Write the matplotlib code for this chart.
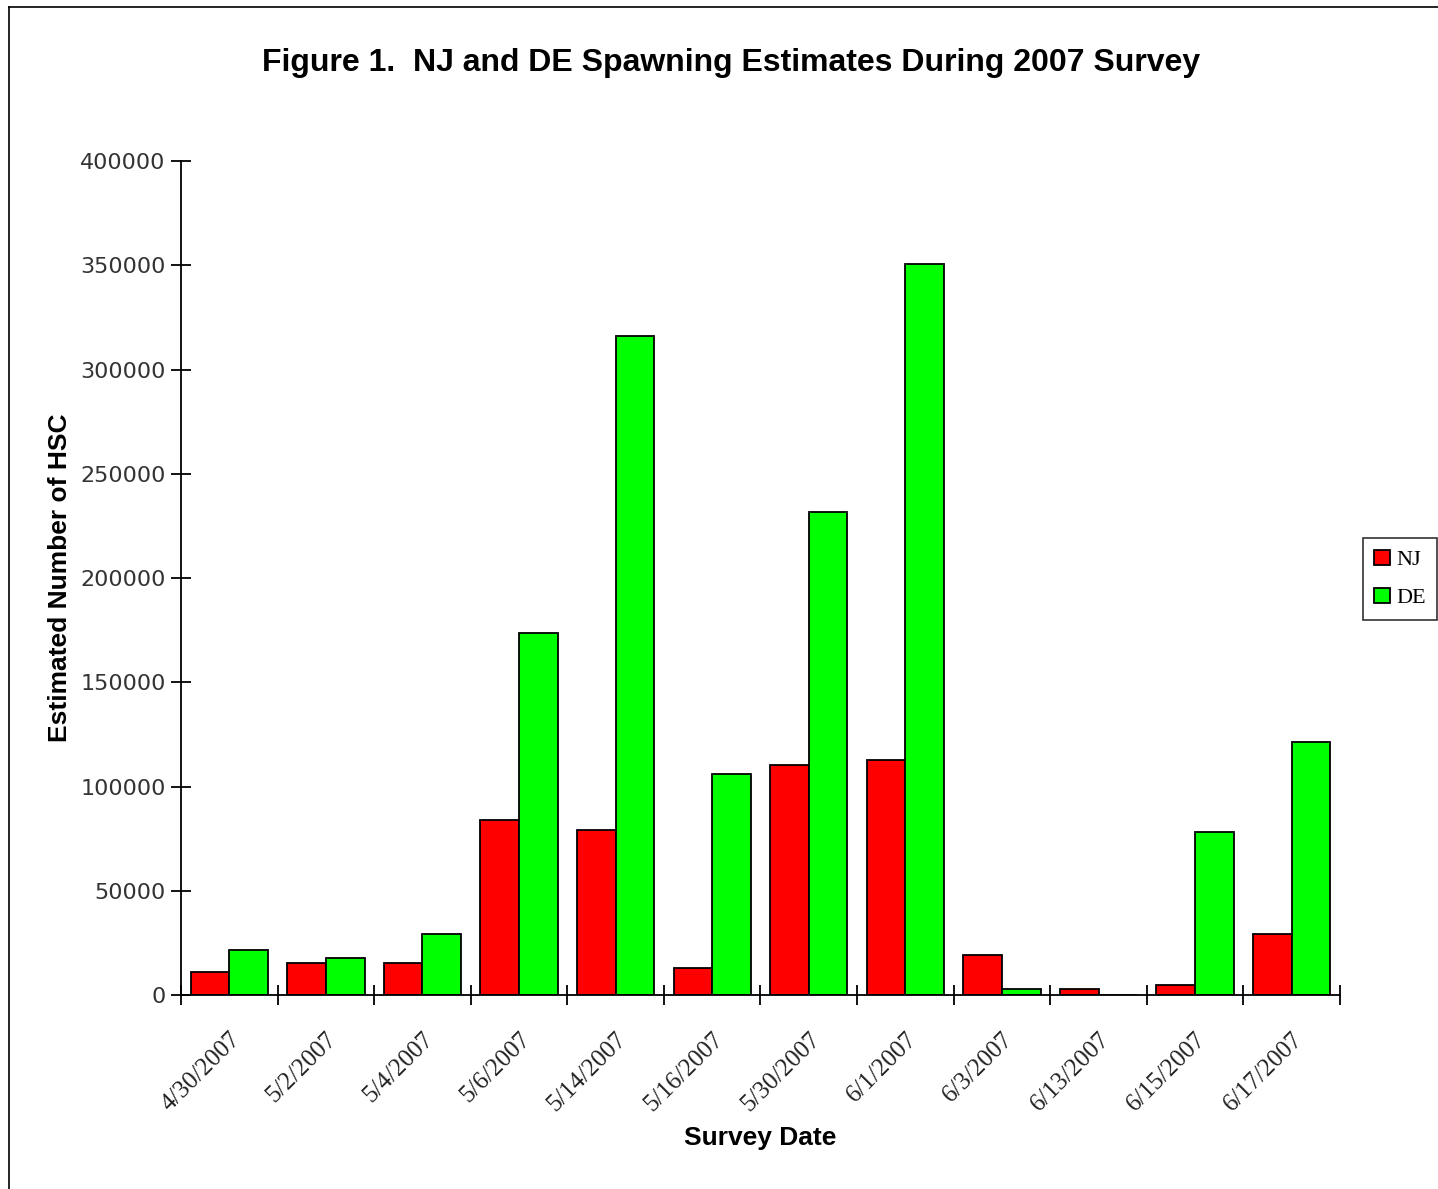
import matplotlib
matplotlib.use("Agg")
import matplotlib.pyplot as plt
import numpy as np
from matplotlib.lines import Line2D

dates = ["4/30/2007", "5/2/2007", "5/4/2007", "5/6/2007", "5/14/2007", "5/16/2007",
         "5/30/2007", "6/1/2007", "6/3/2007", "6/13/2007", "6/15/2007", "6/17/2007"]
nj = [11000, 15300, 15300, 83900, 79100, 13000, 110300, 112700, 19200, 2900, 4800, 29300]
de = [21600, 17700, 29300, 173600, 316000, 106000, 231700, 350600, 2900, 0, 78200, 121300]
yticks = [0, 50000, 100000, 150000, 200000, 250000, 300000, 350000, 400000]

fig = plt.figure(figsize=(14.38, 11.89), dpi=100)
ax = fig.add_axes([181/1438, 1-995/1189, (1340-181)/1438, (995-161)/1189])

x = np.arange(len(dates))
w = 0.4
ax.bar(x - w/2, nj, w, color="#FF0000", edgecolor="black", linewidth=1.3, label="NJ")
ax.bar(x + w/2, de, w, color="#00FF00", edgecolor="black", linewidth=1.3, label="DE")

ax.set_xlim(-0.5, len(dates) - 0.5)
ax.set_ylim(0, 400000)
ax.set_yticks(yticks)
ax.set_yticklabels([str(v) for v in yticks], fontsize=16, color="#333333", family="DejaVu Sans")
ax.set_xticks(x)
ax.set_xticklabels(dates, rotation=45, ha="right", rotation_mode="anchor",
                   fontsize=18, family="Liberation Serif", color="#222222")
ax.set_xticks(np.arange(-0.5, len(dates), 1.0), minor=True)
ax.tick_params(axis="x", which="major", length=0, pad=24)
ax.tick_params(axis="x", which="minor", direction="inout", length=14, width=1.3)
ax.tick_params(axis="y", direction="inout", length=14, width=1.3, pad=4)

for s in ["top", "right"]:
    ax.spines[s].set_visible(False)
for s in ["left", "bottom"]:
    ax.spines[s].set_linewidth(1.3)

ax.set_ylabel("Estimated Number of HSC", fontsize=19, fontweight="bold",
              family="Liberation Sans", va="center")
ax.yaxis.set_label_coords((60-181)/1159, 0.5)
ax.set_xlabel("Survey Date", fontsize=19, fontweight="bold", family="Liberation Sans",
              va="center")
ax.xaxis.set_label_coords(0.5, (995-1138)/834)

fig.text(731/1438, 1-63/1189, "Figure 1.  NJ and DE Spawning Estimates During 2007 Survey",
         ha="center", va="center", fontsize=23, fontweight="bold", family="Liberation Sans")

leg = fig.legend(loc="center", bbox_to_anchor=(1400/1438, 1-579/1189),
                 prop={"family": "Liberation Serif", "size": 16},
                 frameon=True, fancybox=False, edgecolor="black",
                 handlelength=0.7, handleheight=0.7, handletextpad=0.3,
                 borderpad=0.5, labelspacing=0.8, borderaxespad=0)
leg.get_frame().set_linewidth(1.2)

fig.add_artist(Line2D([9/1438, 9/1438], [0, 1-7/1189], transform=fig.transFigure,
                      color="black", linewidth=1.2))
fig.add_artist(Line2D([9/1438, 1], [1-7/1189, 1-7/1189], transform=fig.transFigure,
                      color="black", linewidth=1.2))

fig.savefig("out.png", dpi=100)
